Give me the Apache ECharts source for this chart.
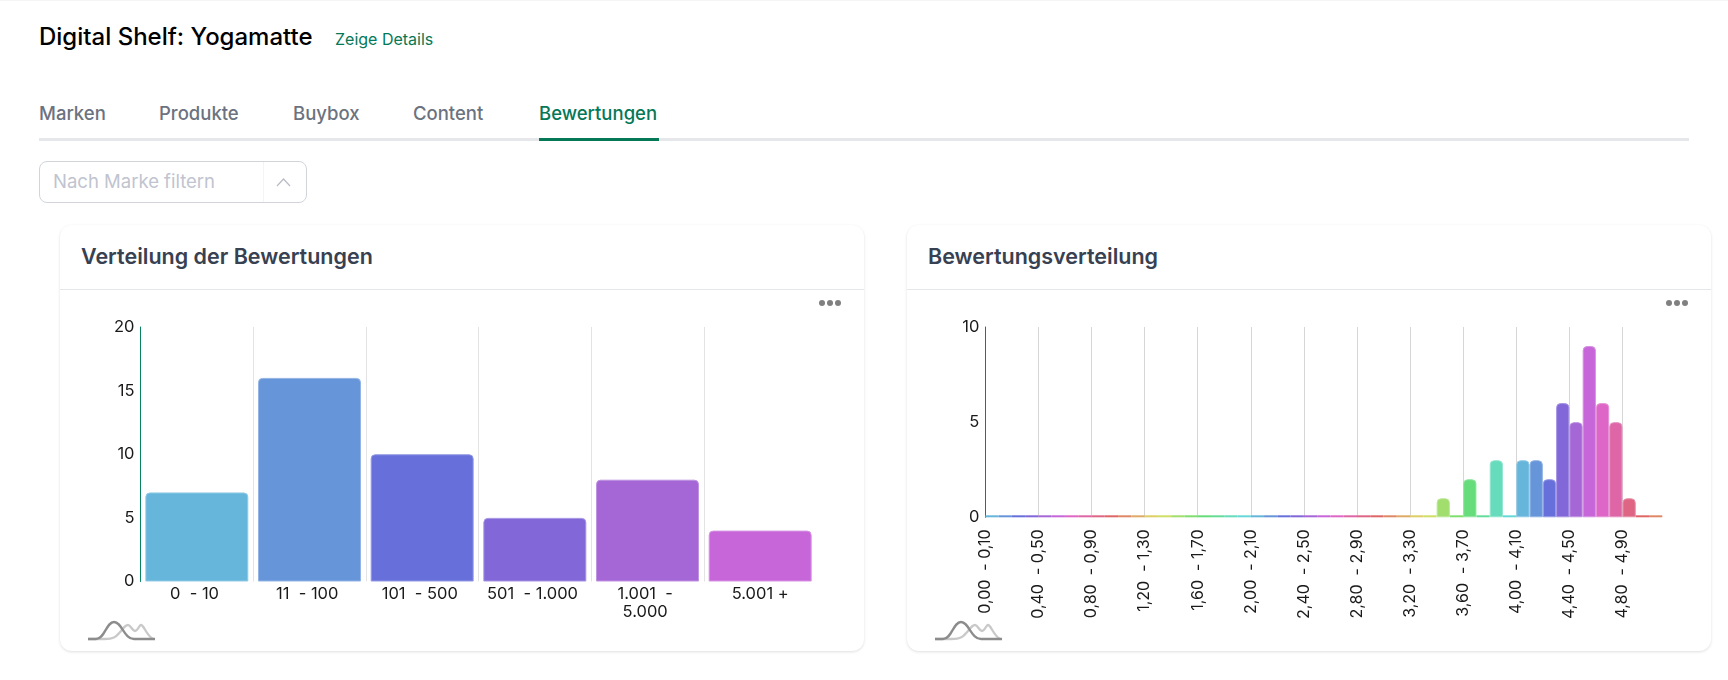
<!DOCTYPE html>
<html lang="de">
<head>
<meta charset="utf-8">
<title>Digital Shelf: Yogamatte</title>
<script src="https://cdn.jsdelivr.net/npm/echarts@6/dist/echarts.min.js"></script>
<style>
    html, body { margin: 0; padding: 0; background: #fff; }
    body { position: relative; width: 1728px; height: 680px; overflow: hidden; font-family: Inter, sans-serif; border-top: 1px solid #f5f5f5; box-sizing: border-box; }
    .abs { position: absolute; white-space: nowrap; }
    .pageTitle { left: 39px; top: 21px; font-size: 24px; line-height: 30px; font-weight: 500; color: #000; }
    .details { left: 335px; top: 28px; font-size: 16px; line-height: 20px; color: #047857; }
    .tab { top: 99.5px; font-size: 18.5px; line-height: 24px; font-weight: 500; color: #6b7280; }
    .tab.active { color: #047857; }
    .tabLine { left: 39px; top: 137px; width: 1650px; height: 3px; background: #e5e7eb; }
    .tabActive { left: 539px; top: 137px; width: 120px; height: 3px; background: #047857; }
    .filter { left: 39px; top: 160px; width: 268px; height: 42px; box-sizing: border-box; border: 1px solid #d1d5db; border-radius: 8px; }
    .filterText { left: 53px; top: 168px; font-size: 18.5px; line-height: 24px; color: #c0c4cf; }
    .filterSep { left: 263px; top: 161px; width: 1px; height: 40px; background: #f3f4f6; }
    .card { top: 224px; width: 804px; height: 426px; box-sizing: border-box; background: #fff; border-radius: 12px; box-shadow: 0 1px 3px rgba(0,0,0,.13); }
    .cardTitle { top: 242px; font-size: 21.5px; line-height: 26px; font-weight: 600; color: #374151; }
    .cardLine { top: 288px; width: 804px; height: 1px; background: #e5e7eb; }
    .dots { top: 299px; width: 22px; height: 6px; display: flex; justify-content: space-between; }
    .dots i { width: 6px; height: 6px; border-radius: 3px; background: #808080; display: block; }
    .chart { top: 289px; width: 804px; height: 360px; }
    .icon { top: 619px; width: 68px; height: 22px; }
</style>
</head>
<body>
<div class="abs pageTitle">Digital Shelf: Yogamatte</div>
<div class="abs details">Zeige Details</div>

<div class="abs tab" style="left:39px">Marken</div>
<div class="abs tab" style="left:159px">Produkte</div>
<div class="abs tab" style="left:293px">Buybox</div>
<div class="abs tab" style="left:413px">Content</div>
<div class="abs tab active" style="left:539px">Bewertungen</div>
<div class="abs tabLine"></div>
<div class="abs tabActive"></div>

<div class="abs filter"></div>
<div class="abs filterText">Nach Marke filtern</div>
<div class="abs filterSep"></div>
<svg class="abs" style="left:276px;top:175px" width="15" height="12"><path d="M1 10 L7.5 3 L14 10" fill="none" stroke="#b8bcc6" stroke-width="1.2"/></svg>

<div class="abs card" style="left:60px"></div>
<div class="abs card" style="left:907px"></div>
<div class="abs cardTitle" style="left:81px">Verteilung der Bewertungen</div>
<div class="abs cardTitle" style="left:928px">Bewertungsverteilung</div>
<div class="abs cardLine" style="left:60px"></div>
<div class="abs cardLine" style="left:907px"></div>

<div class="abs chart" id="countPlot" style="left:60px"></div>
<div class="abs chart" id="ratingPlot" style="left:907px"></div>

<div class="abs dots" style="left:819px"><i></i><i></i><i></i></div>
<div class="abs dots" style="left:1666px"><i></i><i></i><i></i></div>

<svg class="abs icon" style="left:88px" viewBox="0 0 68 22"><use href="#bumps"/></svg>
<svg class="abs icon" style="left:935px" viewBox="0 0 68 22">
    <g id="bumps" fill="none" stroke-width="2.3">
        <path d="M0 19 H16 C26 19 28 17 33 11 C36 7 38 5 40 5 C43 5 44 11 47 11 C50 11 51 5 53 5 C56 5 58 15 65 19" stroke="#c9c9c9"/>
        <path d="M0 19 H8 C17 19 18 2 26 2 C34 2 36 19 46 19 H67" stroke="#8c8c8c"/>
    </g>
</svg>

<script>
// anzahl der bewertungen
const countCategories = ['0  - 10 ', '11  - 100 ', '101  - 500 ', '501  - 1.000 ', '1.001  - \n5.000 ', '5.001 +']
const countValues = [7, 16, 10, 5, 8, 4]

// durchschnittliche bewertung, 0,00 - 5,10 in steps of 0,10
const ratingCategories = [
    '0,00  - 0,10', '0,10  - 0,20', '0,20  - 0,30', '0,30  - 0,40', '0,40  - 0,50', '0,50  - 0,60',
    '0,60  - 0,70', '0,70  - 0,80', '0,80  - 0,90', '0,90  - 1,00', '1,00  - 1,10', '1,10  - 1,20',
    '1,20  - 1,30', '1,30  - 1,40', '1,40  - 1,50', '1,50  - 1,60', '1,60  - 1,70', '1,70  - 1,80',
    '1,80  - 1,90', '1,90  - 2,00', '2,00  - 2,10', '2,10  - 2,20', '2,20  - 2,30', '2,30  - 2,40',
    '2,40  - 2,50', '2,50  - 2,60', '2,60  - 2,70', '2,70  - 2,80', '2,80  - 2,90', '2,90  - 3,00',
    '3,00  - 3,10', '3,10  - 3,20', '3,20  - 3,30', '3,30  - 3,40', '3,40  - 3,50', '3,50  - 3,60',
    '3,60  - 3,70', '3,70  - 3,80', '3,80  - 3,90', '3,90  - 4,00', '4,00  - 4,10', '4,10  - 4,20',
    '4,20  - 4,30', '4,30  - 4,40', '4,40  - 4,50', '4,50  - 4,60', '4,60  - 4,70', '4,70  - 4,80',
    '4,80  - 4,90', '4,90  - 5,00', '5,00  - 5,10'
]
const ratingValues = [
    0, 0, 0, 0, 0, 0, 0, 0, 0, 0,
    0, 0, 0, 0, 0, 0, 0, 0, 0, 0,
    0, 0, 0, 0, 0, 0, 0, 0, 0, 0,
    0, 0, 0, 0, 1, 0, 2, 0, 3, 0,
    3, 3, 2, 6, 5, 9, 6, 5, 1, 0, 0
]

const palette = [
    '#66b6dc', '#6695d9', '#6770da', '#8167d8', '#a566d6', '#c666d8', '#de66c6', '#de66a6', '#de6684', '#de6666',
    '#de8866', '#deaa66', '#dece66', '#cede66', '#a2de6e', '#80de6e', '#66dc7a', '#66dc9a', '#66dcbc', '#66d8d8'
]

const labelFont = { fontFamily: 'Inter', fontSize: 16.5, color: '#1a1a1a' }

const toBars = (values) => values.map((v, i) => {
    let c = palette[i % palette.length]
    return {
        value: v,
        itemStyle: {
            color: c,
            borderColor: echarts.color.lift(c, 0.3),
            borderWidth: v ? 1 : 0,
            borderRadius: v ? [4, 4, 0, 0] : 0
        }
    }
})

const yAxis = (max, interval) => ({
    type: 'value',
    min: 0,
    max: max,
    interval: interval,
    axisLine: { show: true, lineStyle: { color: '#08845f', width: 1 } },
    axisTick: { show: false },
    splitLine: { show: false },
    axisLabel: { ...labelFont, margin: 6 }
})

let countChart = echarts.init(document.getElementById('countPlot'))
countChart.setOption({
    animation: false,
    grid: { left: 80.5, top: 37, width: 676, height: 254.5 },
    xAxis: {
        type: 'category',
        data: countCategories,
        axisLine: { show: false },
        axisTick: { show: false },
        splitLine: { show: true, showMaxLine: false, showMinLine: false, lineStyle: { color: '#e3e3e3', width: 1 } },
        axisLabel: { ...labelFont, margin: 4, lineHeight: 18, interval: 0 }
    },
    yAxis: yAxis(20, 5),
    series: [{
        type: 'bar',
        barCategoryGap: '8.6%',
        data: toBars(countValues)
    }]
})

let ratingChart = echarts.init(document.getElementById('ratingPlot'))
ratingChart.setOption({
    animation: false,
    grid: { left: 78.3, top: 37, width: 677, height: 190.3 },
    xAxis: [{
        type: 'category',
        data: ratingCategories,
        axisLine: { show: false },
        axisTick: { show: false },
        axisLabel: { show: false },
        splitLine: { show: true, interval: 3, showMaxLine: false, showMinLine: false, lineStyle: { color: '#d6d6d6', width: 1 } }
    }, {
        // labels sit on the band start, so they get their own axis running edge to edge
        type: 'category',
        position: 'bottom',
        boundaryGap: false,
        data: ratingCategories.concat(''),
        axisLine: { show: false },
        axisTick: { show: false },
        splitLine: { show: false },
        axisLabel: { fontFamily: 'Inter', fontSize: 16, color: '#1a1a1a', interval: 3, rotate: 90, margin: 12 }
    }],
    yAxis: yAxis(10, 5),
    series: [{
        type: 'bar',
        xAxisIndex: 0,
        barCategoryGap: 0,
        barMinHeight: 2,
        data: toBars(ratingValues)
    }]
})
</script>
</body>
</html>
